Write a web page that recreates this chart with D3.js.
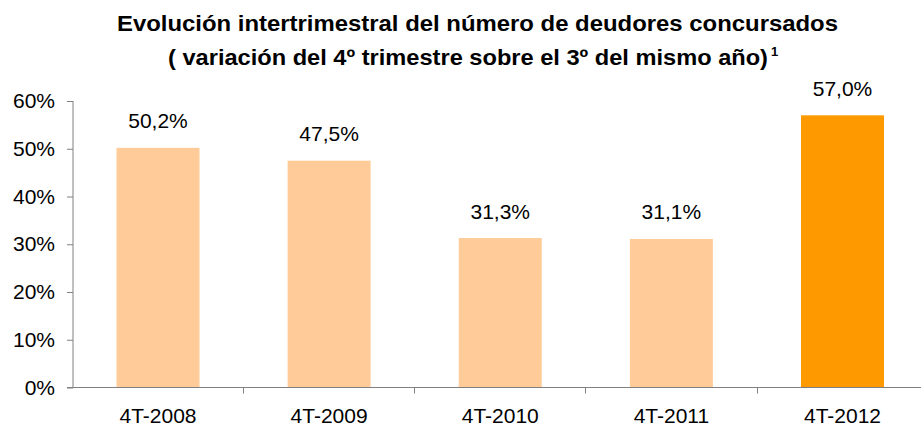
<!DOCTYPE html>
<html>
<head>
<meta charset="utf-8">
<script src="https://cdn.jsdelivr.net/npm/d3@7"></script>
<style>
  body { margin: 0; background: #fff; }
  svg { display: block; font-family: "Liberation Sans", Arial, sans-serif; }
</style>
</head>
<body>
<svg id="chart" width="921" height="426"></svg>
<script>
// data
const categories = ["4T-2008", "4T-2009", "4T-2010", "4T-2011", "4T-2012"];
const values = [50.2, 47.5, 31.3, 31.1, 57.0];
const valueLabels = ["50,2%", "47,5%", "31,3%", "31,1%", "57,0%"];
const yTicks = [0, 10, 20, 30, 40, 50, 60];
const highlight = "4T-2012";

const svg = d3.select("#chart");

// title (two lines, bold, a bit wide like the original)
svg.append("text")
    .attr("x", 117).attr("y", 31)
    .attr("font-weight", "bold")
    .attr("font-size", 22)
    .attr("textLength", 721)
    .attr("lengthAdjust", "spacingAndGlyphs")
    .text("Evolución intertrimestral del número de deudores concursados");
svg.append("text")
    .attr("x", 168).attr("y", 65)
    .attr("font-weight", "bold")
    .attr("font-size", 22)
    .attr("textLength", 600)
    .attr("lengthAdjust", "spacingAndGlyphs")
    .text("( variación del 4º trimestre sobre el 3º del mismo año)");
svg.append("text")
    .attr("x", 771).attr("y", 56)
    .attr("font-weight", "bold")
    .attr("font-size", 13)
    .text("1");

// scales
let x = d3.scaleBand()
    .domain(categories)
    .range([72, 928.5])
    .paddingInner(0.515)
    .paddingOuter(0.26);

let y = d3.scaleLinear().domain([0, 60]).range([387.5, 101]);

// bars
svg.append("g")
    .selectAll("rect")
    .data(categories)
    .enter().append("rect")
    .attr("x", d => x(d))
    .attr("y", (d, i) => y(values[i]))
    .attr("width", x.bandwidth())
    .attr("height", (d, i) => y(0) - y(values[i]))
    .attr("fill", d => d == highlight ? "#FF9900" : "#FFCC99");

// value labels
svg.append("g")
    .selectAll("text")
    .data(categories)
    .enter().append("text")
    .attr("x", d => x(d) + x.bandwidth() / 2)
    .attr("y", (d, i) => y(values[i]) - 19.5)
    .attr("text-anchor", "middle")
    .attr("font-size", 21)
    .attr("fill", "#000")
    .text((d, i) => valueLabels[i]);

// y axis
let yAxis = svg.append("g")
    .attr("transform", "translate(73,0)")
    .call(d3.axisLeft(y).tickValues(yTicks).tickSize(6).tickPadding(12).tickFormat(d => d + "%"));
yAxis.select(".domain").attr("stroke", "#808080").attr("d", "M0," + y(0) + "V" + y(60));
yAxis.selectAll(".tick line").attr("stroke", "#808080");
yAxis.selectAll(".tick text")
    .attr("font-size", 21)
    .attr("font-family", "Liberation Sans, Arial, sans-serif")
    .attr("fill", "#000");

// x axis: line with ticks between the categories
let step = x.step();
let x0 = x.range()[0];
let xAxis = svg.append("g");
xAxis.append("line")
    .attr("x1", 67).attr("x2", 921)
    .attr("y1", y(0)).attr("y2", y(0))
    .attr("stroke", "#808080");
xAxis.selectAll(".xt")
    .data(d3.range(1, categories.length))
    .enter().append("line")
    .attr("class", "xt")
    .attr("x1", i => Math.round(x0 + i * step) + 0.5)
    .attr("x2", i => Math.round(x0 + i * step) + 0.5)
    .attr("y1", y(0))
    .attr("y2", y(0) + 6)
    .attr("stroke", "#808080");
xAxis.selectAll(".xl")
    .data(categories)
    .enter().append("text")
    .attr("class", "xl")
    .attr("x", d => x(d) + x.bandwidth() / 2)
    .attr("y", 423)
    .attr("text-anchor", "middle")
    .attr("font-size", 21)
    .attr("fill", "#000")
    .text(d => d);
</script>
</body>
</html>
